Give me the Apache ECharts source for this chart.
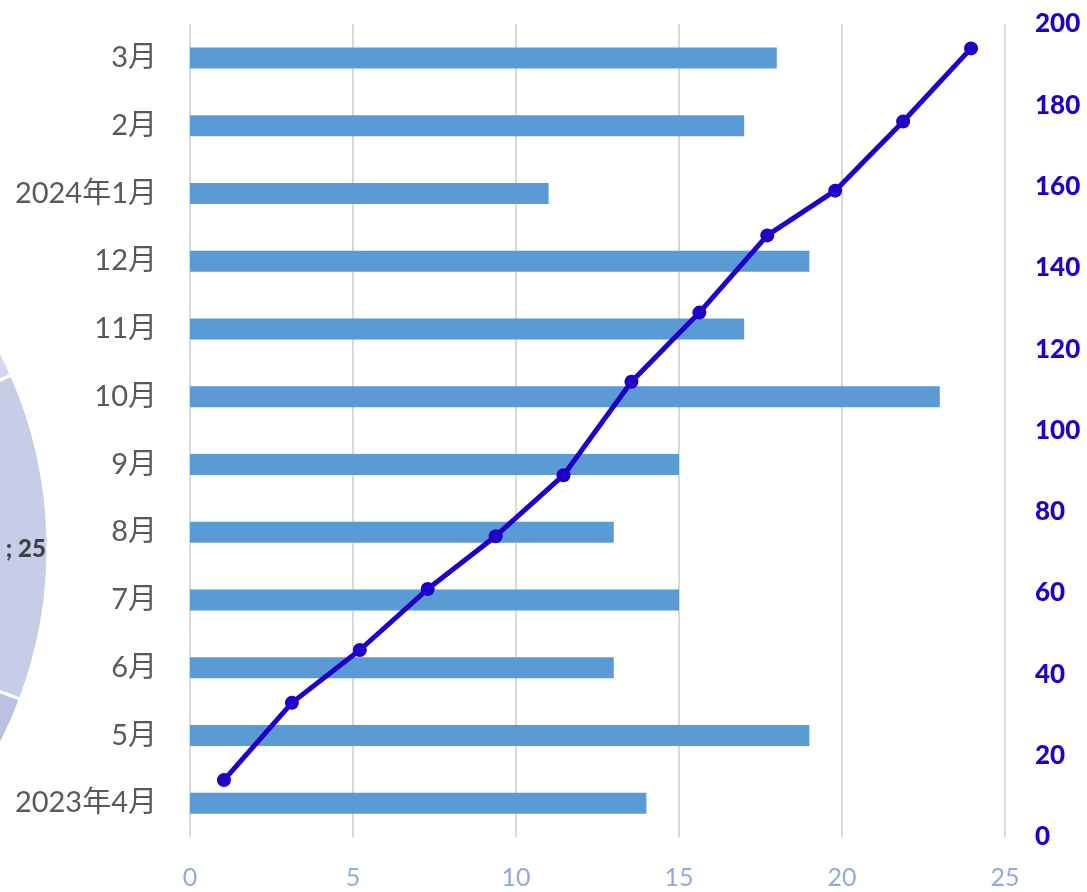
<!DOCTYPE html>
<html>
<head>
<meta charset="utf-8">
<script src="https://cdn.jsdelivr.net/npm/echarts@6/dist/echarts.min.js"></script>
<style>
html,body{margin:0;padding:0;background:#fff;}
#chart{width:1087px;height:892px;}
</style>
</head>
<body>
<div id="chart"></div>
<script>
// Categories (bottom to top)
const months = ['2023年4月','5月','6月','7月','8月','9月','10月','11月','12月','2024年1月','2月','3月'];
// Monthly values (bars, bottom axis 0-25)
const monthlyValues = [14, 19, 13, 15, 13, 15, 23, 17, 19, 11, 17, 18];
// Cumulative values (line, right axis 0-200)
const cumulativeValues = [14, 33, 46, 61, 74, 89, 112, 129, 148, 159, 176, 194];
// Bottom axis ticks
const bottomTicks = [0, 5, 10, 15, 20, 25];
// Right axis ticks
const rightTicks = [0, 20, 40, 60, 80, 100, 120, 140, 160, 180, 200];
// Partial pie visible at left edge (only the "; 25" slice is readable)
const pieNames = ['', 'b', 'c', 'd', 'e', 'f'];
const pieValues = [25, 32, 40, 38, 35, 32];
const pieColors = ['#c6cde6', '#b8c1e2', '#c0c8e5', '#cbd1ea', '#c3cae6', '#d3d8ee'];

const chart = echarts.init(document.getElementById('chart'));
const latin = 'Lato, "Noto Sans CJK JP", sans-serif';

chart.setOption({
  animation: false,
  backgroundColor: '#ffffff',
  grid: { left: 190, right: 82, top: 24, bottom: 55, containLabel: false },
  xAxis: [
    {
      type: 'value', position: 'bottom',
      min: bottomTicks[0], max: bottomTicks[bottomTicks.length - 1], interval: 5,
      axisLine: { show: false }, axisTick: { show: false },
      splitLine: { show: true, lineStyle: { color: '#d9d9d9', width: 2 } },
      axisLabel: { color: '#8faadc', fontSize: 25, fontFamily: latin, margin: 28 }
    },
    {
      type: 'category', position: 'top', data: months, boundaryGap: true,
      show: false
    }
  ],
  yAxis: [
    {
      type: 'category', position: 'left', data: months,
      axisLine: { show: false }, axisTick: { show: false }, splitLine: { show: false },
      axisLabel: { color: '#595959', fontSize: 29, fontFamily: latin, margin: 33 }
    },
    {
      type: 'value', position: 'right',
      min: rightTicks[0], max: rightTicks[rightTicks.length - 1], interval: 20,
      axisLine: { show: false }, axisTick: { show: false }, splitLine: { show: false },
      axisLabel: { color: '#2000c8', fontSize: 26, fontWeight: 900, fontFamily: latin, margin: 30 }
    }
  ],
  series: [
    {
      type: 'pie',
      center: [-380, 548],
      radius: [378, 428],
      startAngle: 23.85,
      clockwise: true,
      silent: true,
      avoidLabelOverlap: false,
      z: 0,
      itemStyle: { borderColor: '#ffffff', borderWidth: 3 },
      label: { show: false },
      labelLine: { show: false },
      labelLayout: { dy: 12 },
      data: pieValues.map((v, i) => ({
        name: pieNames[i], value: v,
        itemStyle: { color: pieColors[i] },
        label: i === 0 ? {
          show: true, position: 'inside', formatter: '{b}; {c}',
          color: '#404040', fontSize: 24, fontWeight: 900, fontFamily: latin
        } : { show: false }
      }))
    },
    {
      type: 'bar',
      xAxisIndex: 0, yAxisIndex: 0,
      data: monthlyValues,
      barWidth: 21,
      itemStyle: { color: '#5b9bd5' },
      z: 2
    },
    {
      type: 'line',
      xAxisIndex: 1, yAxisIndex: 1,
      data: cumulativeValues,
      symbol: 'circle', symbolSize: 14,
      lineStyle: { color: '#2000c8', width: 5 },
      itemStyle: { color: '#2000c8' },
      z: 3
    }
  ]
});
</script>
</body>
</html>
